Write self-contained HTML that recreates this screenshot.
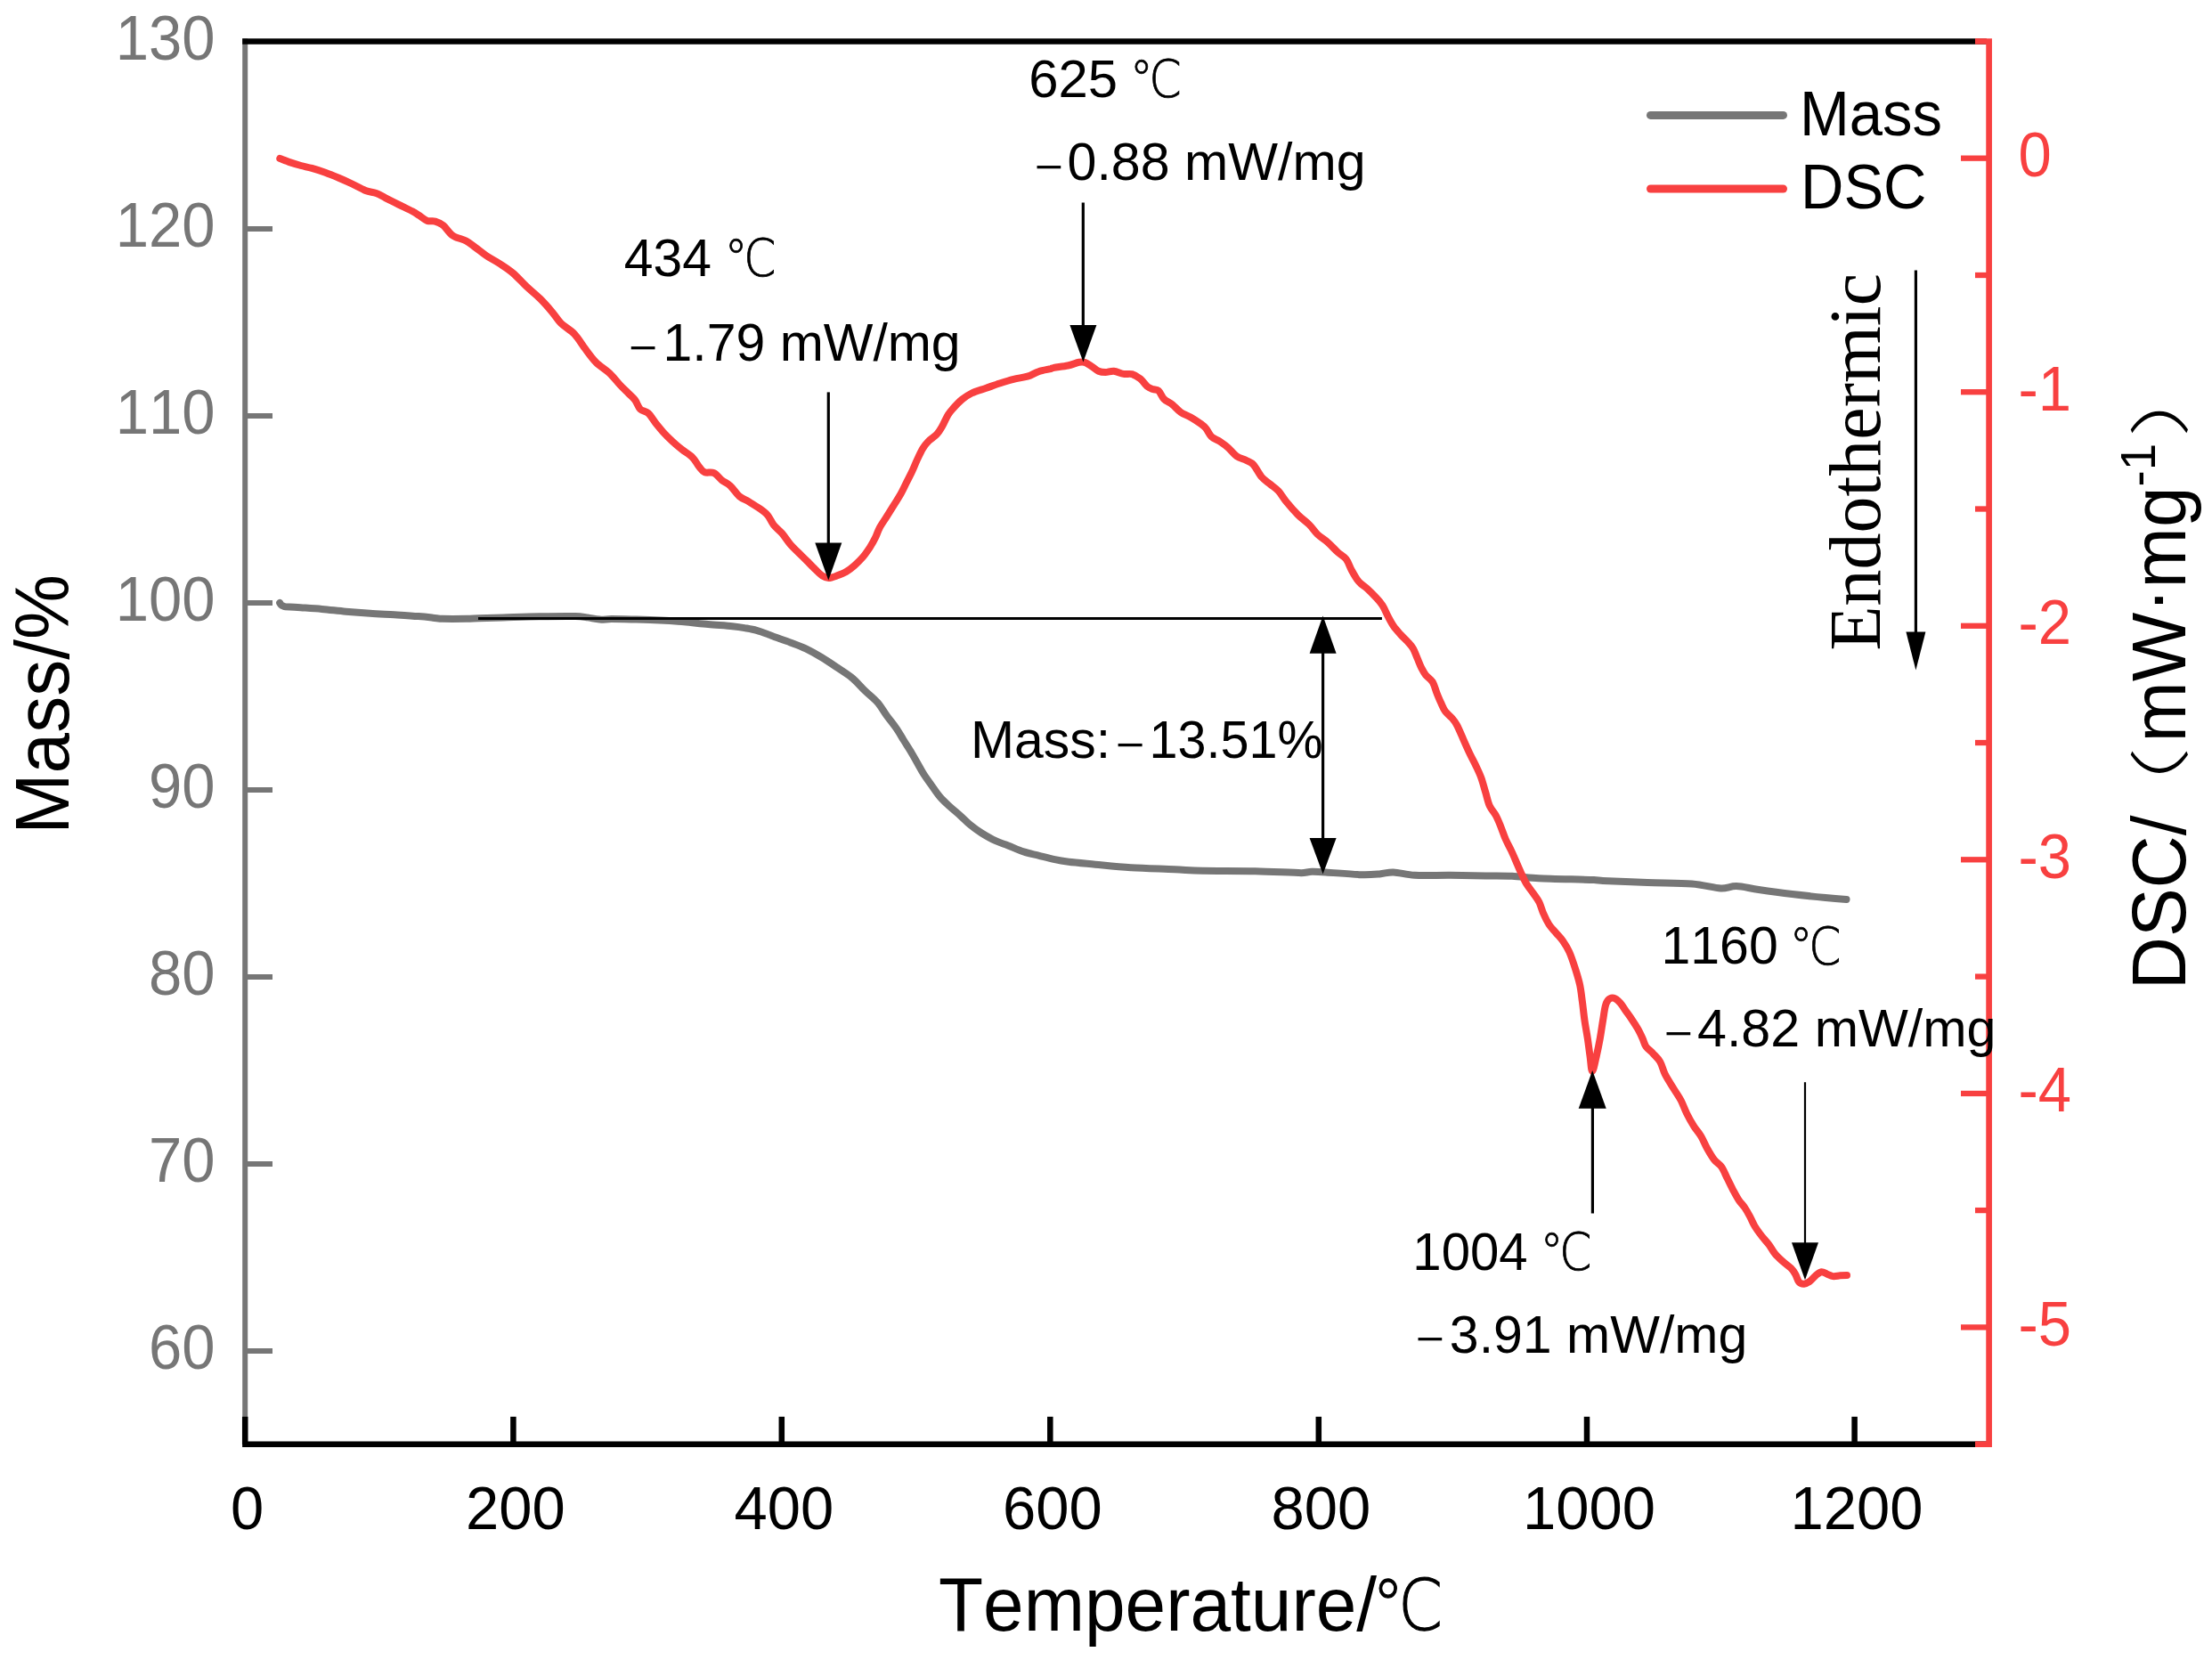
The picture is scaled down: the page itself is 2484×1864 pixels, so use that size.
<!DOCTYPE html>
<html lang="en"><head><meta charset="utf-8"><title>TG-DSC curves</title>
<style>html,body{margin:0;padding:0;background:#fff}svg{display:block}text{font-family:"Liberation Sans", sans-serif;font-kerning:none}.cjk{font-family:"DejaVu Sans", "Liberation Sans", "Noto Sans CJK SC", sans-serif;font-weight:200}.par{font-family:"Liberation Sans", "Noto Sans CJK SC", sans-serif;font-weight:300}.serif{font-family:"Liberation Serif", serif}</style></head><body>
<svg width="2484" height="1864" viewBox="0 0 2484 1864">
<rect width="2484" height="1864" fill="#fff"/>
<g stroke="#767676" stroke-width="6" fill="none">
<line x1="275.2" y1="43.3" x2="275.2" y2="1624.9"/>
<line x1="278" y1="257" x2="306" y2="257"/>
<line x1="278" y1="467" x2="306" y2="467"/>
<line x1="278" y1="677" x2="306" y2="677"/>
<line x1="278" y1="887" x2="306" y2="887"/>
<line x1="278" y1="1097" x2="306" y2="1097"/>
<line x1="278" y1="1307" x2="306" y2="1307"/>
<line x1="278" y1="1517" x2="306" y2="1517"/>
</g>
<g fill="#767676" font-size="67" text-anchor="end">
<text transform="translate(241.5,67.3) scale(1,1.04)">130</text>
<text transform="translate(241.5,277.3) scale(1,1.04)">120</text>
<text transform="translate(241.5,487.3) scale(1,1.04)">110</text>
<text transform="translate(241.5,697.3) scale(1,1.04)">100</text>
<text transform="translate(241.5,907.3) scale(1,1.04)">90</text>
<text transform="translate(241.5,1117.3) scale(1,1.04)">80</text>
<text transform="translate(241.5,1327.3) scale(1,1.04)">70</text>
<text transform="translate(241.5,1537.3) scale(1,1.04)">60</text>
</g>
<g stroke="#000" stroke-width="6.5" fill="none">
<line x1="272.2" y1="46.5" x2="2231" y2="46.5"/>
<line x1="272.2" y1="1621.7" x2="2231" y2="1621.7"/>
</g>
<g stroke="#000" stroke-width="6.5" fill="none">
<line x1="275.2" y1="1590.8" x2="275.2" y2="1622"/>
<line x1="576.4" y1="1590.8" x2="576.4" y2="1622"/>
<line x1="877.8" y1="1590.8" x2="877.8" y2="1622"/>
<line x1="1179.3" y1="1590.8" x2="1179.3" y2="1622"/>
<line x1="1480.8" y1="1590.8" x2="1480.8" y2="1622"/>
<line x1="1782" y1="1590.8" x2="1782" y2="1622"/>
<line x1="2082.6" y1="1590.8" x2="2082.6" y2="1622"/>
</g>
<g fill="#000" font-size="67" text-anchor="middle">
<text transform="translate(277.7,1717.2) scale(1,1.035)">0</text>
<text transform="translate(578.9,1717.2) scale(1,1.035)">200</text>
<text transform="translate(880.3,1717.2) scale(1,1.035)">400</text>
<text transform="translate(1181.8,1717.2) scale(1,1.035)">600</text>
<text transform="translate(1483.3,1717.2) scale(1,1.035)">800</text>
<text transform="translate(1784.5,1717.2) scale(1,1.035)">1000</text>
<text transform="translate(2085.1,1717.2) scale(1,1.035)">1200</text>
</g>
<g stroke="#F84040" stroke-width="6.3" fill="none">
<line x1="2233.6" y1="43.2" x2="2233.6" y2="1624.9" stroke-width="6.7"/>
<line x1="2202" y1="177.7" x2="2231" y2="177.7"/>
<line x1="2202" y1="440.2" x2="2231" y2="440.2"/>
<line x1="2202" y1="702.8" x2="2231" y2="702.8"/>
<line x1="2202" y1="965.3" x2="2231" y2="965.3"/>
<line x1="2202" y1="1227.9" x2="2231" y2="1227.9"/>
<line x1="2202" y1="1490.4" x2="2231" y2="1490.4"/>
<line x1="2218" y1="46.4" x2="2231" y2="46.4" stroke-width="6.6"/>
<line x1="2218" y1="309.0" x2="2231" y2="309.0"/>
<line x1="2218" y1="571.5" x2="2231" y2="571.5"/>
<line x1="2218" y1="834.0" x2="2231" y2="834.0"/>
<line x1="2218" y1="1096.6" x2="2231" y2="1096.6"/>
<line x1="2218" y1="1359.1" x2="2231" y2="1359.1"/>
<line x1="2218" y1="1621.7" x2="2231" y2="1621.7" stroke-width="6.6"/>
</g>
<g fill="#F84040" font-size="67" text-anchor="start">
<text transform="translate(2266.5,198.0) scale(1,1.04)">0</text>
<text transform="translate(2266.5,460.5) scale(1,1.04)">-1</text>
<text transform="translate(2266.5,723.1) scale(1,1.04)">-2</text>
<text transform="translate(2266.5,985.6) scale(1,1.04)">-3</text>
<text transform="translate(2266.5,1248.2) scale(1,1.04)">-4</text>
<text transform="translate(2266.5,1510.7) scale(1,1.04)">-5</text>
</g>
<path d="M314.2,677.0C314.5,677.4 315.3,678.9 316.0,679.5C316.7,680.1 317.7,680.4 318.5,680.7C319.3,681.0 319.8,681.1 320.7,681.2C323.3,681.4 328.8,681.6 334.2,682.0C341.0,682.5 352.3,683.1 361.4,683.9C370.4,684.7 379.5,685.9 388.5,686.7C397.5,687.5 406.6,688.2 415.6,688.8C424.6,689.4 433.6,689.7 442.7,690.2C451.8,690.8 462.7,691.5 469.9,692.1C476.4,692.6 481.6,693.2 486.1,693.7C490.5,694.1 492.6,694.7 497.0,694.8C503.3,695.0 517.3,694.9 524.1,694.8C529.5,694.7 532.3,694.4 537.7,694.2C544.5,694.0 554.0,693.7 564.8,693.4C576.1,693.1 592.0,692.5 605.5,692.3C619.0,692.1 637.1,691.9 646.1,692.1C651.6,692.2 655.2,692.8 659.7,693.4C664.2,694.0 668.8,695.3 673.3,695.6C677.8,695.9 681.4,695.1 686.8,695.1C693.6,695.1 705.0,695.4 714.0,695.6C723.0,695.8 732.1,696.0 741.1,696.4C750.1,696.8 759.2,697.5 768.2,698.3C777.2,699.1 786.3,700.2 795.3,701.0C804.3,701.8 815.6,702.5 822.4,703.2C827.9,703.8 831.5,704.3 836.0,705.1C840.5,705.9 845.1,706.6 849.6,707.8C854.1,709.0 859.7,711.2 863.1,712.5C865.9,713.5 867.2,714.3 870.0,715.3C874.1,716.8 881.7,719.2 887.5,721.4C893.3,723.6 899.1,725.6 904.9,728.4C910.7,731.2 916.6,734.5 922.4,738.0C928.2,741.5 934.1,745.5 939.9,749.4C945.7,753.3 952.2,757.2 957.4,761.6C962.6,766.0 966.6,771.1 971.3,775.6C975.9,780.1 981.2,784.0 985.3,788.7C989.4,793.4 992.3,798.8 995.8,803.6C999.3,808.4 1003.1,812.9 1006.3,817.5C1009.5,822.1 1012.1,826.8 1015.0,831.5C1017.9,836.2 1021.1,841.1 1023.7,845.5C1026.3,849.9 1028.4,853.6 1030.7,857.7C1033.0,861.8 1035.1,865.8 1037.7,869.9C1040.3,874.0 1043.5,878.1 1046.4,882.2C1049.3,886.3 1052.0,890.6 1055.2,894.4C1058.4,898.2 1061.9,901.4 1065.7,904.9C1069.5,908.4 1073.8,911.8 1077.9,915.4C1082.0,919.0 1086.0,923.4 1090.1,926.7C1094.2,930.1 1097.7,932.6 1102.4,935.5C1107.1,938.4 1113.1,941.9 1118.1,944.2C1123.0,946.5 1126.9,947.4 1132.1,949.4C1137.3,951.4 1143.7,954.5 1149.5,956.4C1155.3,958.3 1161.2,959.3 1167.0,960.8C1172.8,962.3 1179.0,964.0 1184.5,965.2C1190.0,966.4 1193.8,967.0 1200.0,967.8C1207.6,968.7 1218.3,969.6 1230.0,970.7C1241.7,971.8 1255.2,973.3 1270.0,974.2C1284.8,975.1 1305.7,975.6 1319.0,976.2C1331.4,976.8 1337.6,977.5 1350.0,977.8C1365.1,978.1 1391.1,977.8 1409.7,978.2C1428.3,978.6 1450.8,980.1 1461.4,980.2C1466.2,980.2 1468.7,978.9 1473.3,978.8C1477.9,978.7 1482.7,979.0 1489.0,979.4C1498.3,980.0 1519.0,981.9 1529.0,982.2C1537.0,982.5 1543.0,981.9 1549.0,981.4C1555.0,980.9 1558.4,979.2 1564.8,979.4C1571.4,979.6 1579.1,982.3 1588.7,982.8C1599.3,983.4 1615.2,982.7 1628.5,982.8C1641.8,982.9 1656.7,983.2 1668.3,983.4C1679.9,983.6 1688.0,983.3 1698.0,983.8C1708.0,984.3 1716.0,985.6 1728.0,986.2C1743.3,986.9 1778.0,987.6 1790.0,988.1C1794.0,988.3 1796.0,988.8 1800.0,989.0C1810.0,989.5 1833.3,990.4 1850.0,991.0C1866.7,991.6 1886.2,991.4 1900.0,992.5C1913.1,993.5 1924.2,997.1 1932.5,997.5C1939.6,997.9 1942.9,994.8 1950.0,995.0C1957.1,995.2 1965.0,997.6 1975.0,999.0C1985.4,1000.5 2000.0,1002.5 2012.5,1004.0C2025.0,1005.5 2039.8,1007.0 2050.0,1008.0C2059.4,1008.9 2069.6,1009.7 2073.5,1010.0" fill="none" stroke="#767676" stroke-width="8" stroke-linejoin="round" stroke-linecap="round"/>
<path d="M314.3,178.0C316.2,178.7 322.1,181.1 326.0,182.4C329.9,183.7 334.0,184.9 338.0,186.0C342.0,187.1 345.6,187.6 350.2,188.9C354.8,190.2 360.3,191.9 365.3,193.7C370.3,195.5 375.4,197.6 380.4,199.7C385.4,201.8 390.4,204.1 395.4,206.5C400.4,208.9 406.0,212.2 410.5,214.0C415.0,215.8 418.8,215.6 422.5,217.0C426.2,218.4 428.8,220.2 433.0,222.3C437.2,224.4 443.0,227.3 448.0,229.8C453.0,232.3 459.4,235.3 463.2,237.3C466.3,239.0 467.9,240.1 470.7,241.9C473.5,243.7 476.8,246.8 479.8,247.9C482.8,249.0 485.8,247.7 488.8,248.6C491.8,249.5 494.7,250.7 497.8,253.2C501.1,255.8 504.1,261.6 508.4,264.5C512.7,267.4 519.1,268.2 523.4,270.5C527.7,272.8 530.2,275.2 534.0,278.0C537.8,280.8 541.5,284.0 546.0,287.0C550.5,290.0 556.0,292.7 561.0,296.0C566.0,299.3 571.0,302.3 576.0,306.6C581.0,310.9 586.2,316.9 591.2,321.7C596.2,326.5 601.5,330.4 606.3,335.2C611.1,340.0 616.0,345.6 620.0,350.3C624.0,355.0 625.9,359.0 630.1,363.1C634.3,367.2 640.7,370.4 645.2,375.2C649.7,380.0 653.2,386.4 657.2,391.7C661.2,397.0 664.8,402.3 669.3,406.8C673.8,411.3 679.8,414.6 684.3,418.9C688.8,423.2 692.9,428.6 696.4,432.4C699.9,436.1 702.6,438.6 705.4,441.4C708.2,444.2 710.7,446.0 713.0,449.0C715.3,452.0 716.5,457.0 719.0,459.5C721.5,462.0 725.0,461.3 728.0,464.0C731.0,466.8 734.2,472.6 737.0,476.1C739.8,479.6 741.6,481.8 744.6,485.1C747.6,488.4 751.6,492.4 755.1,495.7C758.6,499.0 761.9,501.7 765.7,504.7C769.5,507.7 774.5,510.4 777.7,513.7C781.0,517.0 782.9,521.5 785.2,524.3C787.4,526.9 788.5,529.2 791.3,530.3C794.1,531.4 798.5,529.6 801.8,531.1C805.0,532.6 807.8,536.9 810.8,539.3C813.8,541.7 816.7,542.4 819.9,545.4C823.2,548.4 826.9,554.4 830.4,557.4C833.9,560.4 837.2,561.1 841.0,563.4C844.8,565.7 849.5,568.5 853.0,571.0C856.5,573.5 859.4,575.4 862.0,578.5C864.6,581.6 866.1,586.1 868.8,589.5C871.5,592.9 875.1,595.2 878.2,598.9C881.3,602.5 884.5,607.8 887.6,611.4C890.7,615.0 893.9,617.7 897.0,620.8C900.1,623.9 903.3,627.1 906.4,630.2C909.5,633.3 912.9,636.9 915.8,639.6C918.7,642.4 921.2,645.1 923.6,646.7C926.0,648.2 927.7,649.0 930.3,649.0C932.9,649.0 936.0,647.9 939.3,646.7C942.6,645.5 946.8,644.0 950.2,642.0C953.6,640.0 956.5,637.6 959.6,634.9C962.7,632.1 966.1,628.9 969.0,625.5C971.9,622.1 974.5,618.2 976.9,614.6C979.2,611.0 981.3,607.3 983.1,603.6C984.9,599.9 985.7,596.5 987.8,592.6C989.9,588.7 993.1,584.3 995.7,580.1C998.3,575.9 1000.9,571.8 1003.5,567.6C1006.1,563.4 1008.9,559.3 1011.3,555.1C1013.6,550.9 1015.5,546.7 1017.6,542.5C1019.7,538.3 1021.8,534.4 1023.9,530.0C1026.0,525.6 1028.0,520.3 1030.1,515.9C1032.2,511.5 1034.3,506.8 1036.4,503.4C1038.5,500.0 1040.0,498.1 1042.6,495.5C1045.2,492.9 1049.4,490.6 1052.0,487.7C1054.6,484.8 1056.2,481.9 1058.3,478.3C1060.4,474.7 1062.5,469.2 1064.6,465.8C1066.7,462.4 1068.2,460.9 1070.8,458.0C1073.4,455.1 1076.8,451.4 1080.2,448.6C1083.6,445.9 1086.8,443.6 1091.2,441.5C1095.6,439.4 1101.6,437.8 1106.8,436.0C1112.0,434.2 1117.3,432.2 1122.5,430.5C1127.7,428.8 1133.0,427.1 1138.2,425.8C1143.4,424.5 1149.1,424.1 1153.8,422.7C1158.5,421.3 1162.0,418.6 1166.4,417.2C1170.8,415.8 1177.2,414.8 1180.0,414.1C1181.4,413.7 1182.0,413.1 1183.5,412.8C1186.7,412.2 1194.5,411.5 1199.2,410.5C1203.9,409.5 1208.6,407.4 1211.7,406.8C1214.1,406.3 1215.6,406.1 1217.9,406.8C1220.2,407.6 1223.2,409.7 1225.8,411.3C1228.4,412.9 1231.0,415.6 1233.6,416.7C1236.2,417.8 1238.5,418.0 1241.4,418.0C1244.3,418.0 1247.4,416.4 1250.8,416.7C1254.2,417.0 1258.4,419.3 1261.8,419.9C1265.2,420.5 1268.1,419.3 1271.2,420.2C1274.3,421.1 1277.7,423.1 1280.6,425.4C1283.5,427.7 1286.1,432.1 1288.4,434.0C1290.6,435.8 1292.6,436.3 1294.7,437.1C1296.8,437.9 1299.0,437.0 1301.0,438.7C1303.1,440.5 1304.6,445.5 1307.2,448.1C1309.8,450.7 1313.5,451.8 1316.6,454.3C1319.7,456.8 1322.6,460.5 1326.0,462.9C1329.4,465.2 1333.3,466.3 1337.0,468.4C1340.7,470.5 1345.0,473.4 1347.9,475.5C1350.6,477.5 1352.1,478.5 1354.2,481.0C1356.3,483.5 1357.9,487.9 1360.5,490.4C1363.1,492.9 1366.8,493.7 1369.9,495.8C1373.0,497.9 1376.2,500.1 1379.3,502.9C1382.4,505.6 1385.3,509.9 1388.7,512.3C1392.1,514.6 1396.5,515.4 1399.6,517.0C1402.7,518.6 1405.0,519.0 1407.5,521.7C1410.4,524.8 1413.8,532.1 1416.9,535.8C1420.0,539.4 1423.2,541.0 1426.3,543.6C1429.4,546.2 1432.6,548.0 1435.7,551.4C1438.8,554.8 1441.3,559.5 1445.0,564.0C1448.7,568.5 1453.4,573.9 1457.6,578.1C1461.8,582.3 1466.4,585.4 1470.1,589.0C1473.8,592.6 1476.0,596.6 1479.5,600.0C1483.0,603.4 1487.5,605.9 1491.3,609.2C1495.1,612.6 1498.9,617.0 1502.3,620.1C1505.7,623.2 1509.1,624.5 1511.7,627.9C1514.3,631.3 1515.6,636.3 1517.9,640.5C1520.2,644.7 1522.9,649.6 1525.8,653.0C1528.7,656.4 1532.1,657.9 1535.2,660.8C1538.3,663.7 1541.7,667.1 1544.6,670.2C1547.5,673.3 1550.1,675.9 1552.4,679.6C1554.8,683.3 1556.6,688.3 1558.7,692.2C1560.8,696.1 1562.6,699.7 1564.9,703.1C1567.2,706.5 1570.2,709.6 1572.8,712.5C1575.4,715.4 1578.2,717.8 1580.6,720.4C1582.9,723.0 1585.1,725.1 1586.9,728.2C1588.7,731.3 1590.0,735.5 1591.6,739.1C1593.2,742.8 1594.7,747.0 1596.3,750.1C1597.9,753.2 1598.9,755.3 1601.0,757.9C1603.1,760.5 1606.7,762.4 1608.8,765.8C1610.9,769.2 1611.9,774.4 1613.5,778.3C1615.1,782.2 1616.6,785.9 1618.2,789.3C1619.8,792.7 1620.8,795.8 1622.9,798.7C1625.0,801.6 1628.5,803.9 1630.7,806.5C1632.9,809.1 1634.3,810.8 1636.0,814.1C1638.1,818.0 1640.8,824.6 1643.1,829.8C1645.4,835.0 1647.8,840.4 1650.1,845.4C1652.4,850.4 1655.0,854.8 1657.2,859.5C1659.4,864.2 1661.6,868.6 1663.4,873.6C1665.2,878.6 1666.5,884.1 1668.1,889.3C1669.7,894.5 1670.8,900.5 1672.8,904.9C1674.8,909.3 1677.8,912.0 1679.9,915.9C1682.0,919.8 1683.6,924.0 1685.4,928.4C1687.2,932.8 1688.8,938.0 1690.8,942.5C1692.8,947.0 1695.1,950.9 1697.1,955.1C1699.1,959.3 1700.8,963.4 1702.6,967.6C1704.4,971.8 1706.1,975.9 1708.1,980.1C1710.0,984.3 1711.9,988.7 1714.3,992.6C1716.7,996.5 1719.8,1000.2 1722.2,1003.6C1724.6,1007.0 1726.6,1009.4 1728.4,1013.0C1730.2,1016.6 1731.3,1021.3 1733.1,1025.5C1734.9,1029.7 1737.1,1034.3 1739.4,1038.0C1741.8,1041.7 1744.6,1044.3 1747.2,1047.4C1749.8,1050.5 1752.5,1052.9 1755.0,1056.5C1757.5,1060.1 1760.0,1063.8 1762.3,1069.0C1764.6,1074.2 1767.0,1081.5 1769.0,1087.7C1771.0,1093.9 1772.9,1100.1 1774.2,1106.3C1775.5,1112.5 1776.0,1118.2 1776.9,1124.8C1777.8,1131.4 1778.5,1139.1 1779.5,1146.0C1780.5,1152.9 1781.8,1159.4 1782.8,1166.0C1783.8,1172.6 1784.6,1179.6 1785.5,1185.8C1786.4,1192.0 1786.9,1203.0 1788.1,1203.0C1789.3,1203.0 1791.3,1192.0 1792.8,1185.8C1794.2,1179.6 1795.6,1172.6 1796.8,1166.0C1798.0,1159.4 1799.0,1152.0 1800.0,1146.0C1801.0,1140.0 1801.7,1133.9 1802.7,1130.0C1803.5,1126.9 1804.5,1124.4 1806.0,1122.8C1807.5,1121.2 1809.8,1120.1 1812.0,1120.6C1814.2,1121.1 1817.0,1123.5 1819.3,1126.0C1821.6,1128.5 1823.7,1132.3 1825.9,1135.4C1828.1,1138.5 1830.3,1141.4 1832.5,1144.7C1834.7,1148.0 1837.2,1151.8 1839.2,1155.3C1841.2,1158.8 1843.0,1162.7 1844.5,1166.0C1846.0,1169.3 1846.4,1172.4 1848.4,1175.2C1850.4,1178.0 1853.8,1180.2 1856.4,1183.1C1859.1,1186.0 1862.1,1188.5 1864.3,1192.4C1866.5,1196.3 1867.3,1201.3 1869.8,1206.3C1872.3,1211.3 1876.5,1217.6 1879.5,1222.5C1882.5,1227.4 1885.2,1230.9 1887.6,1235.5C1890.0,1240.1 1891.6,1245.3 1894.1,1250.2C1896.5,1255.1 1899.6,1260.5 1902.3,1264.8C1905.0,1269.1 1908.0,1272.1 1910.4,1276.2C1912.8,1280.3 1914.5,1284.9 1916.9,1289.2C1919.3,1293.5 1922.3,1298.7 1925.0,1302.2C1927.7,1305.7 1930.8,1306.8 1933.2,1310.3C1935.7,1313.8 1937.5,1319.0 1939.7,1323.3C1941.9,1327.6 1944.0,1332.2 1946.2,1336.3C1948.4,1340.4 1950.5,1344.4 1952.7,1347.7C1954.9,1351.0 1957.2,1352.9 1959.2,1355.9C1961.2,1358.9 1963.0,1362.1 1964.9,1365.6C1966.8,1369.1 1968.3,1373.2 1970.6,1377.0C1972.9,1380.8 1976.0,1384.9 1978.7,1388.4C1981.4,1391.9 1984.4,1394.8 1986.8,1398.1C1989.2,1401.3 1990.8,1404.9 1993.3,1407.9C1995.8,1410.9 1998.5,1413.3 2001.5,1416.0C2004.5,1418.7 2008.8,1421.6 2011.2,1424.1C2013.5,1426.4 2014.6,1428.1 2016.1,1430.7C2017.6,1433.3 2018.6,1437.8 2020.2,1439.6C2021.8,1441.4 2023.9,1441.8 2025.9,1441.7C2027.9,1441.6 2030.2,1440.4 2032.4,1438.8C2034.6,1437.2 2036.7,1434.1 2038.9,1432.3C2041.1,1430.5 2043.2,1428.5 2045.4,1428.2C2047.6,1427.9 2049.7,1429.9 2051.9,1430.7C2054.1,1431.5 2056.0,1432.8 2058.4,1433.1C2060.8,1433.4 2063.9,1432.5 2066.5,1432.3C2069.1,1432.1 2072.8,1432.0 2074.0,1432.0" fill="none" stroke="#F84040" stroke-width="8" stroke-linejoin="round" stroke-linecap="round"/>
<g stroke="#000" stroke-width="3.2" fill="none">
<line x1="537" y1="694.5" x2="1551.9" y2="694.5" stroke-width="3"/>
<line x1="930.3" y1="440.4" x2="930.3" y2="612"/>
<line x1="1216.3" y1="227.5" x2="1216.3" y2="368"/>
<line x1="1485.6" y1="730" x2="1485.6" y2="944"/>
<line x1="1788.4" y1="1242" x2="1788.4" y2="1362.5"/>
<line x1="2027" y1="1215.2" x2="2027" y2="1398" stroke-width="2.2"/>
<line x1="2151.4" y1="303.5" x2="2151.4" y2="712"/>
</g>
<g fill="#000">
<polygon points="915.3,609.6 945.3,609.6 930.3,651.4"/>
<polygon points="1201.4,365.1 1231.4,365.1 1216.4,406.6"/>
<polygon points="1470.6,733.7 1500.6,733.7 1485.6,691.4"/>
<polygon points="1470.6,941 1500.6,941 1485.6,981.5"/>
<polygon points="1772.7,1244.8 1803.7,1244.8 1788.2,1202"/>
<polygon points="2012,1395.2 2042,1395.2 2027,1437.2"/>
<polygon points="2140.4,709.5 2162.4,709.5 2151.4,752.5"/>
</g>
<g fill="#000">
<text transform="translate(700.8,310.2) scale(1.033,1.025)" font-size="57">434</text>
<text class="cjk" transform="translate(813.5,310.4) scale(0.9,1)" font-size="58.2" stroke="#000" stroke-width="0.8">℃</text>
<text transform="translate(706.2,405.7) scale(0.966,0.8)" font-size="57">−</text><text transform="translate(744.6,404.8) scale(1.0341,1.025)" font-size="57">1.79 mW/mg</text>
<text transform="translate(1155.3,108.5) scale(1.05,1.025)" font-size="57">625</text>
<text class="cjk" transform="translate(1268.8,108.7) scale(0.9,1)" font-size="58.2" stroke="#000" stroke-width="0.8">℃</text>
<text transform="translate(1161.9,202.8) scale(0.966,0.8)" font-size="57">−</text><text transform="translate(1198.5,201.9) scale(1.0377,1.025)" font-size="57">0.88 mW/mg</text>
<text transform="translate(1586.3,1425.5) scale(1.02,1.025)" font-size="57">1004</text>
<text class="cjk" transform="translate(1729.5,1425.7) scale(0.9,1)" font-size="58.2" stroke="#000" stroke-width="0.8">℃</text>
<text transform="translate(1590.0,1519.4) scale(0.966,0.8)" font-size="57">−</text><text transform="translate(1627.8,1518.5) scale(1.0358,1.025)" font-size="57">3.91 mW/mg</text>
<text transform="translate(1865.4,1082.4) scale(1.036,1.025)" font-size="57">1160</text>
<text class="cjk" transform="translate(2009.5,1082.6) scale(0.9,1)" font-size="58.2" stroke="#000" stroke-width="0.8">℃</text>
<text transform="translate(1868.9,1175.5) scale(0.966,0.8)" font-size="57">−</text><text transform="translate(1906.0,1174.6) scale(1.0388,1.025)" font-size="57">4.82 mW/mg</text>
<text transform="translate(1089.9,851.2) scale(1.016,1.025)" font-size="58">Mass:</text><text transform="translate(1252.7,852.1) scale(0.959,0.8)" font-size="58">−</text><text transform="translate(1290.4,851.2) scale(0.992,1.025)" font-size="58">13.51%</text>
</g>
<line x1="1853.5" y1="129.4" x2="2002.5" y2="129.4" stroke="#767676" stroke-width="9" stroke-linecap="round"/>
<line x1="1853.5" y1="212" x2="2002.5" y2="212" stroke="#F84040" stroke-width="9" stroke-linecap="round"/>
<g fill="#000" font-size="67">
<text transform="translate(2021,152.1) scale(1,1.04)">Mass</text>
<text transform="translate(2022,234.2) scale(1,1.04)">DSC</text>
</g>
<text class="serif" transform="translate(2111.3,730.5) rotate(-90)" font-size="82" fill="#000">Endothermic</text>
<text transform="translate(77.1,936.7) rotate(-90) scale(1,1.035)" font-size="82" fill="#000">Mass/%</text>
<text transform="translate(1054,1830.5) scale(1,1.03)" font-size="82" fill="#000">Temperature/</text><text class="cjk" transform="translate(1540.8,1830.2) scale(0.9,1)" font-size="79.5" fill="#000" stroke="#000" stroke-width="1.2">℃</text>
<g transform="translate(2454,1111.3) rotate(-90)" fill="#000" font-size="82">
<text transform="scale(1,1.035)" x="0" y="0">DSC/</text><text class="par" transform="translate(170.5,-3.4) scale(1.5,1)" x="0" y="0" font-size="68">（</text><text transform="scale(1,1.035)" x="277.9" y="0">mW<tspan dy="-6">·</tspan><tspan dy="6">mg</tspan></text><text x="564.8" y="-34" font-size="54.7">-1</text><text class="par" transform="translate(620.2,-3.4) scale(1.5,1)" x="0" y="0" font-size="68">）</text>
</g>
</svg></body></html>
